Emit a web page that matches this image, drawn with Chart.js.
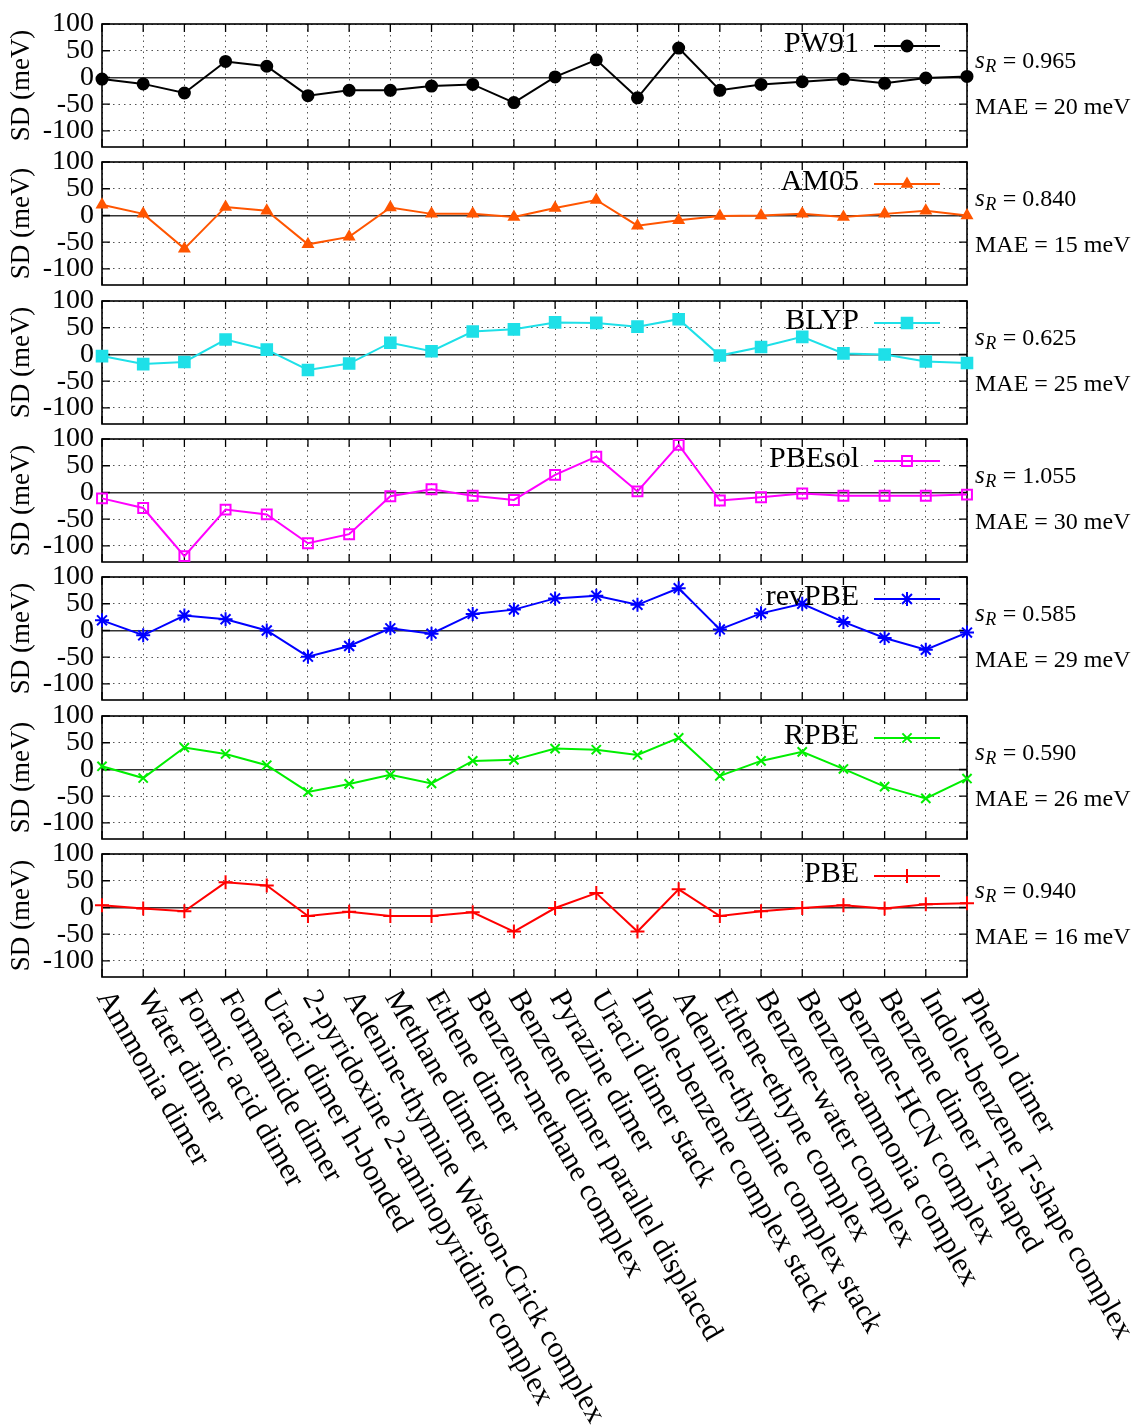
<!DOCTYPE html>
<html><head><meta charset="utf-8">
<script src="https://cdn.jsdelivr.net/npm/chart.js@4/dist/chart.umd.min.js"></script>
<style>
html,body{margin:0;padding:0;background:#fff;width:1134px;height:1428px;overflow:hidden;}
.panel{position:absolute;left:0;width:1134px;}
</style></head><body>
<script>
const categories = ['Ammonia dimer','Water dimer','Formic acid dimer','Formamide dimer','Uracil dimer h-bonded',
  '2-pyridoxine 2-aminopyridine complex','Adenine-thymine Watson-Crick complex','Methane dimer','Ethene dimer',
  'Benzene-methane complex','Benzene dimer parallel displaced','Pyrazine dimer','Uracil dimer stack',
  'Indole-benzene complex stack','Adenine-thymine complex stack','Ethene-ethyne complex','Benzene-water complex',
  'Benzene-ammonia complex','Benzene-HCN complex','Benzene dimer T-shaped','Indole-benzene T-shape complex','Phenol dimer'];

const methods = ['PW91','AM05','BLYP','PBEsol','revPBE','RPBE','PBE'];

const pw91   = [-3,-12,-29,30,21,-34,-24,-24,-16,-13,-47,1,33,-38,55,-24,-13,-8,-3,-11,-1,2];
const am05   = [20,3,-62,16,9,-54,-40,15,3,3,-3,14,29,-19,-9,-1,0,3,-3,3,9,0];
const blyp   = [-3,-18,-14,28,9,-29,-17,22,6,43,47,60,59,52,66,-2,14,33,2,0,-13,-16];
const pbesol = [-11,-29,-119,-32,-41,-95,-78,-7,6,-6,-14,33,67,2,89,-15,-9,-2,-6,-6,-6,-4];
const revpbe = [19,-9,28,21,0,-49,-29,4,-6,31,39,60,65,48,79,2,32,50,16,-14,-36,-4];
const rpbe   = [6,-16,41,29,8,-42,-27,-10,-26,16,18,39,37,27,59,-12,16,33,1,-32,-54,-17];
const pbe    = [4,-2,-7,47,41,-16,-8,-16,-16,-9,-45,-1,27,-45,34,-16,-7,-1,4,-2,6,8];

const sR  = ['0.965','0.840','0.625','1.055','0.585','0.590','0.940'];
const mae = ['20','15','25','30','29','26','16'];
const yTicks = [-100,-50,0,50,100];

const series = [pw91, am05, blyp, pbesol, revpbe, rpbe, pbe];
const colors = ['#000000','#ff5500','#1ee0e8','#ff00ff','#0000ff','#00ee00','#ff0000'];
const fills  = ['#000000','#ff5500','#1ee0e8','rgba(0,0,0,0)','#0000ff','#00ee00','#ff0000'];
const styles = ['circle','triangle','rect','rect','star','crossRot','cross'];
const radii  = [5.5,5.5,7.5,7,7,6.5,7];

const FONT = '"Liberation Serif", "Times New Roman", serif';
const TOP0 = 24, STEP = 138.33, PH = 123, M = 32, LEFTW = 102, RIGHTP = 167;

const framePlugin = {
  id: 'frame',
  beforeDatasetsDraw(chart) {
    const {ctx, chartArea: ca} = chart;
    const xs = chart.scales.x, ys = chart.scales.y;
    ctx.save();
    ctx.strokeStyle = '#000';
    ctx.lineWidth = 1.3;
    ctx.beginPath();
    for (let i = 0; i < xs.ticks.length; i++) {
      const x = xs.getPixelForTick(i);
      ctx.moveTo(x, ca.top); ctx.lineTo(x, ca.top + 8);
      ctx.moveTo(x, ca.bottom); ctx.lineTo(x, ca.bottom - 8);
    }
    yTicks.forEach(v => {
      const y = ys.getPixelForValue(v);
      ctx.moveTo(ca.left, y); ctx.lineTo(ca.left + 8, y);
      ctx.moveTo(ca.right, y); ctx.lineTo(ca.right - 8, y);
    });
    ctx.stroke();
    ctx.lineWidth = 1.6;
    ctx.strokeRect(ca.left, ca.top, ca.right - ca.left, ca.bottom - ca.top);
    ctx.restore();
  }
};

const legendPlugin = {
  id: 'legendBox',
  afterDatasetsDraw(chart) {
    const {ctx, chartArea: ca} = chart;
    const ds = chart.data.datasets[0];
    const y = ca.top + 22;
    ctx.save();
    ctx.font = '30px ' + FONT;
    ctx.fillStyle = '#000';
    ctx.textAlign = 'right';
    ctx.textBaseline = 'middle';
    ctx.fillText(ds.label, ca.right - 108, y - 2);
    ctx.strokeStyle = ds.borderColor;
    ctx.lineWidth = 2;
    ctx.beginPath();
    ctx.moveTo(ca.right - 93, y); ctx.lineTo(ca.right - 27, y);
    ctx.stroke();
    ctx.fillStyle = ds.pointBackgroundColor;
    ctx.strokeStyle = ds.borderColor;
    ctx.lineWidth = ds.pointBorderWidth;
    Chart.helpers.drawPoint(ctx, {pointStyle: ds.pointStyle, radius: ds.pointRadius, borderWidth: ds.pointBorderWidth, rotation: 0}, ca.right - 60, y);
    ctx.restore();
  }
};

function annotPlugin(idx) {
  return {
    id: 'annot',
    afterDraw(chart) {
      const {ctx, chartArea: ca} = chart;
      const x = ca.right + 8;
      const y1 = ca.top + 38, y2 = ca.top + 84;
      ctx.save();
      ctx.fillStyle = '#000';
      ctx.textAlign = 'left';
      ctx.textBaseline = 'middle';
      ctx.font = 'italic 25px ' + FONT;
      ctx.fillText('s', x, y1 - 1);
      let w = ctx.measureText('s').width;
      ctx.font = 'italic 18px ' + FONT;
      ctx.fillText('R', x + w + 0.5, y1 + 5);
      w += ctx.measureText('R').width + 1;
      ctx.font = '24px ' + FONT;
      ctx.fillText(' = ' + sR[idx], x + w, y1);
      ctx.fillText('MAE = ' + mae[idx] + ' meV', x, y2);
      ctx.restore();
    }
  };
}

const xLabelPlugin = {
  id: 'xlabels',
  afterDraw(chart) {
    const {ctx, chartArea: ca} = chart;
    const xs = chart.scales.x;
    ctx.save();
    ctx.fillStyle = '#000';
    ctx.font = '30px ' + FONT;
    ctx.textAlign = 'left';
    ctx.textBaseline = 'middle';
    categories.forEach((c, i) => {
      const x = xs.getPixelForTick(i);
      ctx.save();
      ctx.translate(x + 1, ca.bottom + 16);
      ctx.rotate(Math.PI / 3);
      ctx.fillText(c, 0, 0);
      ctx.restore();
    });
    ctx.restore();
  }
};

methods.forEach((name, i) => {
  const last = i === methods.length - 1;
  const top = Math.round(TOP0 + STEP * i) - M;
  const h = last ? 1428 - top : PH + 2 * M;
  const div = document.createElement('div');
  div.className = 'panel';
  div.style.top = top + 'px';
  div.style.height = h + 'px';
  const cv = document.createElement('canvas');
  div.appendChild(cv);
  document.body.appendChild(div);
  const plugins = [framePlugin, legendPlugin, annotPlugin(i)];
  if (last) plugins.push(xLabelPlugin);
  new Chart(cv, {
    type: 'line',
    data: {
      labels: categories,
      datasets: [{
        label: name,
        data: series[i],
        borderColor: colors[i],
        backgroundColor: fills[i],
        pointBackgroundColor: fills[i],
        pointBorderColor: colors[i],
        pointBorderWidth: 2,
        borderWidth: 2,
        pointStyle: styles[i],
        pointRadius: radii[i],
        tension: 0,
        clip: false,
        fill: false
      }]
    },
    options: {
      responsive: true,
      maintainAspectRatio: false,
      animation: false,
      events: [],
      layout: {padding: {left: 0, right: RIGHTP, top: M, bottom: h - M - PH}},
      plugins: {legend: {display: false}, tooltip: {enabled: false}},
      scales: {
        x: {
          type: 'category',
          offset: false,
          ticks: {display: false},
          grid: {drawTicks: false, color: '#555', lineWidth: 1},
          border: {display: false, dash: [1.5, 4]},
          afterFit: s => { s.height = 0; }
        },
        y: {
          min: -130, max: 100,
          afterBuildTicks: s => { s.ticks = yTicks.map(v => ({value: v})); },
          ticks: {font: {family: FONT, size: 28}, color: '#000', padding: 8, autoSkip: false},
          grid: {
            drawTicks: false,
            color: c => (c.tick && c.tick.value === 0) ? '#333' : '#555',
            lineWidth: c => (c.tick && c.tick.value === 0) ? 1.4 : 1
          },
          border: {display: false, dash: c => (c.tick && c.tick.value === 0) ? [] : [1.5, 4]},
          title: {display: true, text: 'SD (meV)', font: {family: FONT, size: 27}, color: '#000', padding: {top: 6, bottom: 0}},
          afterFit: s => { s.width = LEFTW; }
        }
      }
    },
    plugins: plugins
  });
});
</script>
</body></html>
